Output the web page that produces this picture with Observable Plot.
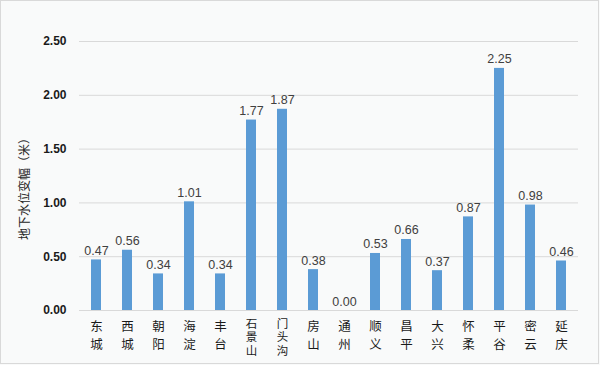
<!DOCTYPE html>
<html>
<head>
<meta charset="utf-8">
<script src="https://cdn.jsdelivr.net/npm/d3@7"></script>
<script src="https://cdn.jsdelivr.net/npm/@observablehq/plot@0.6"></script>
<style>
  body { margin: 0; background: #ffffff; }
  #wrap { position: relative; width: 600px; height: 365px; background: #f9fafa; }
  #frame { position: absolute; left: 0; top: 0; width: 597px; height: 362px; border: 1px solid #d9d9d9; pointer-events: none; }
</style>
</head>
<body>
<div id="wrap"><div id="frame"></div></div>
<script>
const districts = ["东城","西城","朝阳","海淀","丰台","石景山","门头沟","房山","通州","顺义","昌平","大兴","怀柔","平谷","密云","延庆"];
const changes = [0.47, 0.56, 0.34, 1.01, 0.34, 1.77, 1.87, 0.38, 0.00, 0.53, 0.66, 0.37, 0.87, 2.25, 0.98, 0.46];
const yTicks = [0, 0.5, 1.0, 1.5, 2.0, 2.5];
const yLabel = "地下水位变幅（米）";

const data = districts.map((d, i) => ({district: d, value: changes[i]}));
const cjk = "'Noto Sans CJK SC', sans-serif";

const chart = Plot.plot({
  width: 600,
  height: 365,
  marginLeft: 79,
  marginRight: 22,
  marginTop: 41,
  marginBottom: 55,
  style: {background: "transparent", fontFamily: "'Liberation Sans', sans-serif"},
  x: {domain: districts, paddingInner: 0.68, paddingOuter: 0.34},
  y: {domain: [0, 2.5]},
  marks: [
    Plot.ruleY(yTicks, {stroke: "#d9d9d9", strokeWidth: 1}),
    Plot.barY(data, {x: "district", y: "value", fill: "#5b9bd5"}),
    Plot.text(data, {x: "district", y: "value", text: d => d.value.toFixed(2), lineAnchor: "bottom", dy: -5, fontSize: 12.5, fill: "#404040"}),
    Plot.axisY({ticks: yTicks, tickSize: 0, tickPadding: 13, tickFormat: d => d.toFixed(2), fontSize: 12, fontWeight: "bold", fill: "#1a1a1a",
      stroke: "white", strokeWidth: 6, strokeLinejoin: "miter", label: null}),
    Plot.text([yLabel], {frameAnchor: "left", textAnchor: "middle", rotate: -90, dx: -54, dy: 10, fontSize: 12, fill: "#262626", fontFamily: cjk}),
    Plot.axisX(districts.filter(d => d.length === 2), {tickSize: 0, tickPadding: 8, tickFormat: d => [...d].join("\n"), fontSize: 12.5, lineHeight: 1.45, label: null, fill: "#1a1a1a", fontFamily: cjk}),
    Plot.axisX(districts.filter(d => d.length === 3), {tickSize: 0, tickPadding: 8, tickFormat: d => [...d].join("\n"), fontSize: 11.5, lineHeight: 1.16, label: null, fill: "#1a1a1a", fontFamily: cjk})
  ]
});
document.getElementById("wrap").prepend(chart);
</script>
</body>
</html>
